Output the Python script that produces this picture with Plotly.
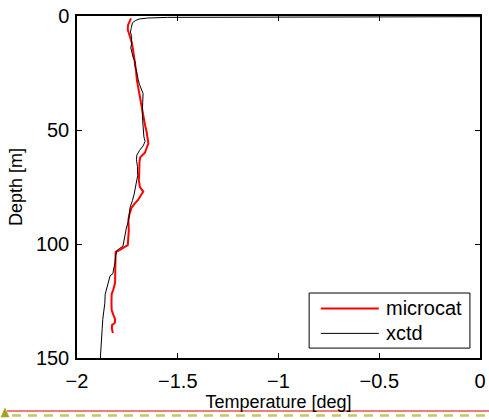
import plotly.graph_objects as go

# microcat profile (red)
micro_depth = [1, 2.5, 4, 6, 8, 10, 12, 16, 20, 24, 28, 32, 36, 40, 44, 48, 51, 54, 56, 58,
               60, 62, 64, 68, 72, 75, 77, 78.5, 80.7, 82.5, 84, 87, 89.5, 94, 98, 100.5,
               102.6, 103.5, 106, 110, 117, 120, 122, 126, 129, 131, 133, 134.5, 135.5, 137, 139]
micro_temp = [-1.732, -1.740, -1.747, -1.748, -1.742, -1.735, -1.727, -1.720, -1.713, -1.707,
              -1.703, -1.695, -1.687, -1.680, -1.670, -1.662, -1.654, -1.648, -1.646, -1.655,
              -1.663, -1.686, -1.690, -1.691, -1.693, -1.688, -1.671, -1.682, -1.697, -1.716,
              -1.729, -1.740, -1.745, -1.743, -1.745, -1.748, -1.787, -1.808, -1.809, -1.810,
              -1.811, -1.820, -1.828, -1.829, -1.828, -1.820, -1.811, -1.812, -1.826, -1.827, -1.822]

# xctd profile (black)
xctd_depth = [0.3, 0.35, 0.4, 0.5, 0.6, 0.9, 1.3, 2, 3, 5, 7, 9, 12, 14, 16, 18, 20, 22, 24, 26,
              28, 30, 32, 34, 38, 42, 46, 50, 53, 55, 57, 59, 61, 63, 66, 70, 73, 75, 78, 81,
              84, 87, 90, 93, 96, 99, 101, 102, 103, 105, 108, 111, 113, 114, 117, 119.5, 122,
              126, 130, 133, 137, 141, 144, 150]
xctd_temp = [0.0, -0.5, -1.0, -1.4, -1.55, -1.65, -1.69, -1.71, -1.725, -1.73, -1.735, -1.729,
             -1.729, -1.733, -1.728, -1.722, -1.712, -1.712, -1.705, -1.702, -1.696, -1.690,
             -1.680, -1.672, -1.674, -1.676, -1.674, -1.670, -1.668, -1.662, -1.672, -1.690,
             -1.703, -1.705, -1.700, -1.699, -1.705, -1.712, -1.716, -1.725, -1.737, -1.740,
             -1.745, -1.755, -1.762, -1.768, -1.772, -1.790, -1.803, -1.808, -1.811, -1.818,
             -1.822, -1.836, -1.845, -1.856, -1.860, -1.862, -1.869, -1.872, -1.875, -1.877,
             -1.882, -1.884]

x_ticks = [-2, -1.5, -1, -0.5, 0]
y_ticks = [0, 50, 100, 150]
legend_names = ["microcat", "xctd"]
line_colors = ["#ff0000", "#000000"]

FONT = "Liberation Sans, Arial, Helvetica, sans-serif"

fig = go.Figure()
fig.add_trace(go.Scatter(x=micro_temp, y=micro_depth, mode="lines",
                         line=dict(color=line_colors[0], width=2), name=legend_names[0],
                         showlegend=False))
fig.add_trace(go.Scatter(x=xctd_temp, y=xctd_depth, mode="lines",
                         line=dict(color=line_colors[1], width=1), name=legend_names[1],
                         showlegend=False))

axis_common = dict(showgrid=False, zeroline=False, showline=True, linecolor="black",
                   linewidth=1.5, mirror="ticks", ticks="inside", ticklen=5,
                   tickcolor="black", tickwidth=1, automargin=False,
                   tickfont=dict(family=FONT, size=20, color="black"))

fig.update_xaxes(range=[-2, 0], tickvals=x_ticks,
                 ticktext=[("\u2212" + str(abs(v)) if v < 0 else str(v)) for v in x_ticks],
                 ticklabelstandoff=4,
                 title=dict(text="Temperature [deg]", font=dict(family=FONT, size=18, color="black"), standoff=5),
                 **axis_common)
fig.update_yaxes(range=[150, 0], tickvals=y_ticks, ticklabelstandoff=2,
                 title=dict(text="Depth [m]", font=dict(family=FONT, size=18, color="black"), standoff=9),
                 **axis_common)

shapes = []
# legend box
shapes.append(dict(type="rect", xref="paper", yref="paper", x0=0.576, x1=0.975, y0=0.029, y1=0.190,
                   line=dict(color="black", width=1), fillcolor="white", layer="above"))
shapes.append(dict(type="line", xref="paper", yref="paper", x0=0.605, x1=0.749, y0=0.145, y1=0.145,
                   line=dict(color=line_colors[0], width=2), layer="above"))
shapes.append(dict(type="line", xref="paper", yref="paper", x0=0.605, x1=0.749, y0=0.072, y1=0.072,
                   line=dict(color=line_colors[1], width=1), layer="above"))
# bottom decorations
shapes.append(dict(type="line", xref="paper", yref="paper", x0=(7-77)/403, x1=(489-77)/403,
                   y0=-(411-358)/342, y1=-(411-358)/342, line=dict(color="#e00000", width=1.2)))
shapes.append(dict(type="line", xref="paper", yref="paper", x0=(12-77)/403, x1=(489-77)/403,
                   y0=-(415.5-358)/342, y1=-(415.5-358)/342,
                   line=dict(color="#c8c860", width=2.5, dash="9px,7px")))
shapes.append(dict(type="path", xref="paper", yref="paper",
                   path="M {:.4f},{:.4f} L {:.4f},{:.4f} L {:.4f},{:.4f} Z".format(
                       (1-77)/403, -(417-358)/342, (9-77)/403, -(417-358)/342, (5-77)/403, -(408-358)/342),
                   fillcolor="#a8a020", line=dict(color="#a8a020", width=0.5)))

annotations = []
for name, yp in zip(legend_names, [0.145, 0.072]):
    annotations.append(dict(text=name, xref="paper", yref="paper", x=0.762, y=yp,
                            xanchor="left", yanchor="middle", showarrow=False,
                            font=dict(family=FONT, size=20, color="black")))

fig.update_layout(width=489, height=419, margin=dict(l=77, r=9, t=16, b=61),
                  plot_bgcolor="white", paper_bgcolor="white",
                  shapes=shapes, annotations=annotations, showlegend=False)

fig.write_html("out.html", config={"displayModeBar": False},
               post_script="document.body.style.margin='0';document.body.style.padding='0';document.body.style.overflow='hidden';")
